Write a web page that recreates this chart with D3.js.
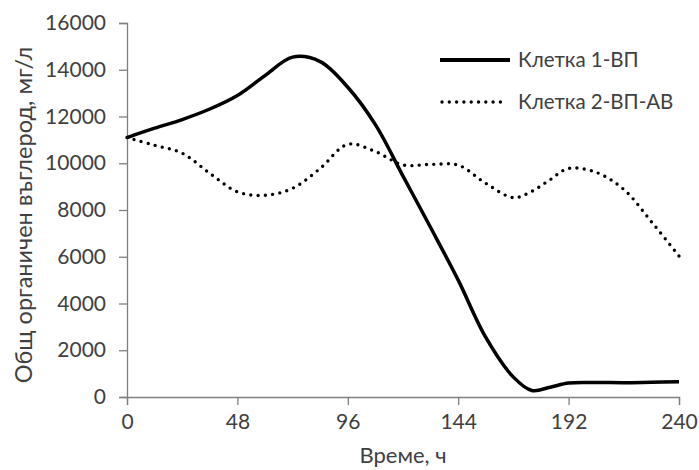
<!DOCTYPE html>
<html>
<head>
<meta charset="utf-8">
<script src="https://cdn.jsdelivr.net/npm/d3@7"></script>
<style>
  body { margin: 0; background: #fff; }
  text { font-family: Lato, "Open Sans", sans-serif; fill: #404040; }
</style>
</head>
<body>
<div id="chart"></div>
<script>
// time, hours
const hours = [0, 12, 24, 36, 48, 60, 72, 84, 96, 108, 120, 132, 144, 156, 168, 176, 184, 192, 204, 216, 228, 240];
// total organic carbon, mg/l
const cell1 = [11100, 11500, 11870, 12320, 12900, 13750, 14540, 14350, 13250, 11650, 9450, 7250, 5000, 2550, 850, 280, 420, 600, 620, 610, 630, 650];
const cell2 = [11100, 10770, 10430, 9570, 8780, 8630, 8930, 9780, 10810, 10500, 9930, 9950, 9920, 9140, 8530, 8800, 9300, 9780, 9610, 8880, 7500, 6030];
const seriesNames = ['Клетка 1-ВП', 'Клетка 2-ВП-АВ'];
const xTicks = [0, 48, 96, 144, 192, 240];
const yTicks = [0, 2000, 4000, 6000, 8000, 10000, 12000, 14000, 16000];

const width = 699, height = 470;
const margin = { top: 23, right: 20, bottom: 73, left: 127 };

const svg = d3.select('#chart')
  .append('svg')
  .attr('width', width)
  .attr('height', height);

const x = d3.scaleLinear().domain([0, 240]).range([margin.left, width - margin.right]);
const y = d3.scaleLinear().domain([0, 16000]).range([height - margin.bottom, margin.top]);

// axes
const xAxis = svg.append('g')
  .attr('transform', `translate(0,${y(0)})`)
  .call(d3.axisBottom(x).tickValues(xTicks).tickFormat(d3.format('d')).tickSize(8).tickPadding(9));
const yAxis = svg.append('g')
  .attr('transform', `translate(${x(0)},0)`)
  .call(d3.axisLeft(y).tickValues(yTicks).tickFormat(d3.format('d')).tickSize(8).tickPadding(13));

[xAxis, yAxis].forEach(g => {
  g.select('.domain').attr('stroke', '#7f7f7f').attr('stroke-width', 1.3);
  g.selectAll('.tick line').attr('stroke', '#7f7f7f').attr('stroke-width', 1.3);
  g.selectAll('.tick text').style('font-size', '21px').attr('fill', '#404040');
});

// lines
const line = vals => d3.line()
  .x((d, i) => x(hours[i]))
  .y(d => y(d))
  .curve(d3.curveCatmullRom.alpha(0.5))(vals);

svg.append('path')
  .attr('d', line(cell2))
  .attr('fill', 'none')
  .attr('stroke', '#000')
  .attr('stroke-width', 3.4)
  .attr('stroke-linecap', 'round')
  .attr('stroke-dasharray', '0 7.3');

svg.append('path')
  .attr('d', line(cell1))
  .attr('fill', 'none')
  .attr('stroke', '#000')
  .attr('stroke-width', 3.5);

// legend
const legend = svg.append('g');
legend.append('line')
  .attr('x1', 440).attr('x2', 510).attr('y1', 60).attr('y2', 60)
  .attr('stroke', '#000').attr('stroke-width', 3.8);
legend.append('line')
  .attr('x1', 442).attr('x2', 505).attr('y1', 102).attr('y2', 102)
  .attr('stroke', '#000').attr('stroke-width', 3.4)
  .attr('stroke-linecap', 'round').attr('stroke-dasharray', '0 7.3');
legend.selectAll('text.lg')
  .data(seriesNames)
  .join('text')
  .attr('class', 'lg')
  .attr('x', 518)
  .attr('y', (d, i) => 60 + i * 42)
  .attr('dy', '0.35em')
  .style('font-size', '20.5px')
  .text(d => d);

// axis titles
svg.append('text')
  .attr('x', (x(0) + x(240)) / 2)
  .attr('y', 463)
  .attr('text-anchor', 'middle')
  .style('font-size', '22px')
  .text('Време, ч');

svg.append('text')
  .attr('transform', `translate(32,215) rotate(-90)`)
  .attr('text-anchor', 'middle')
  .style('font-size', '23.5px')
  .text('Общ органичен въглерод, мг/л');
</script>
</body>
</html>
